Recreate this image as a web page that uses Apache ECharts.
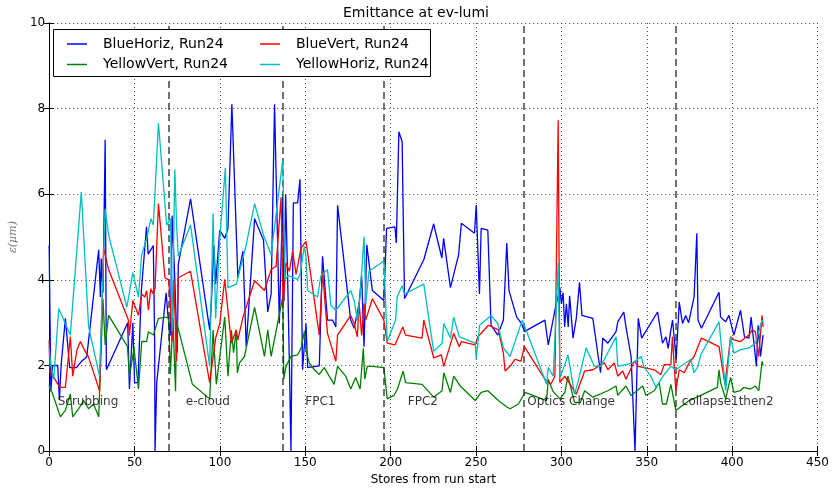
<!DOCTYPE html>
<html>
<head>
<meta charset="utf-8">
<script src="https://cdn.jsdelivr.net/npm/echarts@6/dist/echarts.min.js"></script>
<style>html,body{margin:0;padding:0;background:#fff;overflow:hidden}#c{width:832px;height:491px}</style>
</head>
<body>
<div id="c"></div>
<script>
const title = 'Emittance at ev-lumi';
const xTicks = [0, 450, 50];
const yTicks = [0, 10, 2];
const seriesNames = ['BlueHoriz, Run24', 'YellowVert, Run24', 'BlueVert, Run24', 'YellowHoriz, Run24'];
const boundaries = [70, 137, 196, 278, 367];
const regionNames = ['Scrubbing', 'e-cloud', 'FPC1', 'FPC2', 'Optics Change', 'collapse1then2'];
const regionX = [5, 80, 150, 210, 280, 370.5];
const regionY = [1, 1, 1, 1, 1, 1];

const blueHoriz = [[0,4.8],[1,1.4],[2,2.0],[5,2.0],[6,1.2],[7,2.0],[9.5,3.1],[12,1.95],[16,1.95],[19,2.1],[22,2.2],[29,4.7],[30,3.6],[30.5,4.5],[31.5,3.7],[32.8,7.27],[33.5,1.9],[46,3.0],[47,1.45],[49,3.0],[50,1.6],[52,1.6],[54,3.75],[57,5.24],[58,4.6],[61,4.8],[61.8,2.5],[62,0],[63,1.6],[68.5,3.7],[69.5,3.2],[71,2.7],[72,5.5],[73.5,4.1],[75,2.3],[75.6,4.36],[82.8,5.89],[94,2.83],[95,3.5],[96.5,4.8],[97.5,3.9],[99.9,5.16],[102.8,4.97],[104.7,5.2],[107,8.1],[110.5,4.05],[113.5,4.67],[115.4,2.44],[120.3,5.43],[125.5,4.93],[128,3.25],[130,3.67],[132,8.1],[134.8,2.98],[136.8,5.97],[137.5,3.5],[138.5,6.0],[139.7,3.99],[140.7,2.0],[141.6,0],[143,5.8],[145.5,5.8],[146.9,6.35],[148.4,1.9],[150.4,2.98],[151.4,1.95],[158.2,1.99],[160.1,4.55],[163,3.06],[166,3.06],[167.9,2.9],[168.9,5.74],[176.6,3.06],[178.6,2.87],[181.5,3.44],[183,4.1],[184.4,2.44],[186,4.82],[189.3,3.75],[196,3.52],[197.6,5.2],[202.5,5.24],[203.3,4.86],[204.8,7.46],[206.7,7.23],[208.1,3.56],[219.4,4.47],[225.2,5.31],[226.2,5.13],[230,4.51],[231,4.97],[235,3.82],[239.8,4.59],[241.4,5.32],[249.1,5.09],[250.1,5.75],[252,3.67],[253,5.2],[256.9,5.16],[258.8,2.94],[262.7,2.71],[266,3.06],[268,4.86],[269.3,3.75],[273.8,3.13],[276.7,2.98],[278.3,2.79],[290.3,3.06],[292.3,2.48],[296.2,3.29],[299.1,3.82],[300,3.44],[301,3.7],[301.9,2.9],[302.9,3.44],[304,2.9],[304.8,3.63],[306.8,2.64],[308.7,3.1],[310.6,3.94],[312,3.17],[318.4,3.1],[322.9,1.83],[324.2,2.64],[327.2,2.52],[332,2.79],[333,3.02],[336.5,3.25],[337.8,2.9],[340.8,2.21],[343.1,0],[345,3.1],[347,2.64],[356.3,3.25],[359.2,2.52],[361.2,2.67],[362.5,2.4],[364.1,2.83],[365.1,3.06],[367.2,2.14],[369,3.48],[370.9,2.98],[372.8,3.17],[374.5,3.0],[377.7,3.6],[379.3,5.09],[380,3.06],[382,2.87],[392.3,3.71],[393.2,3.13],[396.2,3.02],[398.1,3.17],[401,2.71],[404.9,3.29],[407.2,2.67],[409.8,2.64],[411.1,3.13],[414.2,1.98],[415.2,2.94],[416.6,2.21],[418.1,2.71]];

const blueVert = [[0,2.6],[0.4,1.83],[2.3,1.75],[6.2,1.49],[9.5,1.49],[12.4,2.67],[13.8,1.75],[16.3,2.37],[18.3,2.56],[20.2,2.4],[23,2.2],[29.5,1.41],[31.9,4.74],[34.8,4.24],[46.4,3.06],[47,2.7],[49,3.52],[52.3,3.17],[54.2,3.67],[56,3.6],[57.1,3.75],[58.1,3.29],[59.5,3.79],[61,3.67],[62,3.8],[64,5.78],[67.8,4.05],[70,4.0],[71,3.4],[72,2.56],[73,4.0],[74.6,2.1],[75.6,4.05],[82.8,4.2],[94,1.6],[97.5,2.64],[99.9,2.98],[102.8,4.01],[106.7,2.52],[109.6,2.83],[110.5,2.6],[113.5,3.13],[120.3,3.98],[126.1,3.75],[130,4.24],[132.9,4.32],[135.8,5.93],[137,3.4],[138.7,4.4],[140.7,4.2],[142.6,4.67],[144.6,4.13],[147.5,4.74],[150.4,4.9],[158.2,2.71],[160.1,4.2],[163,2.75],[167.9,2.1],[168.9,2.71],[176.6,3.17],[178.6,2.98],[180.5,2.67],[181.5,3.48],[183,2.7],[184.4,3.44],[185.4,3.06],[189.3,3.56],[196,3.06],[198,2.52],[202.5,2.48],[207.1,2.9],[208.7,2.71],[218.4,2.64],[219.4,3.06],[225.2,2.18],[229.7,2.25],[231.1,1.98],[236.9,2.75],[240.2,2.44],[241.4,2.56],[249.5,2.48],[251.1,2.67],[257.3,2.94],[263.1,2.83],[266,2.29],[267,1.87],[269.9,1.98],[272.8,2.14],[276.3,2.1],[278.3,2.44],[290.3,1.68],[293.8,1.56],[296.2,1.75],[298.1,7.73],[299.1,1.6],[302,1.75],[308.7,1.33],[313.6,1.87],[318.4,1.9],[325.2,2.06],[327.2,1.9],[331,2.06],[333,1.75],[335.9,1.87],[337.8,1.68],[342.7,2.1],[345,1.98],[348.5,1.95],[354.4,1.9],[358.2,1.79],[360.2,2.02],[364.1,2.02],[365,2.67],[367,1.41],[369,1.9],[371.9,1.83],[374.8,2.06],[377.7,2.21],[378.7,2.25],[382,2.64],[392.3,2.44],[395.8,1.56],[399.1,2.67],[401,2.6],[404.9,2.56],[409.8,2.71],[411.7,2.83],[413.6,2.79],[415.5,2.21],[417.5,3.17],[418.1,2.9]];

const yellowVert = [[0,1.55],[0.4,1.45],[1.7,1.37],[3.7,1.14],[6.6,0.8],[9.5,0.95],[12.4,1.33],[13.8,0.8],[17.3,0.99],[20.2,1.18],[23.1,0.99],[26,1.1],[29,0.8],[31.5,3.56],[32.8,2.48],[34.8,3.17],[45.9,2.44],[47,1.75],[49.7,2.4],[52.3,1.45],[54.2,2.56],[57.1,2.56],[58.1,2.79],[61,2.71],[64,3.1],[68.8,3.13],[70,3.1],[71,1.8],[72.5,3.1],[74,1.4],[74.6,3.02],[83.9,1.56],[94,1.22],[96,2.83],[97.9,1.56],[102.8,3.13],[104.7,1.75],[106.7,2.83],[108,2.3],[109.6,2.83],[110.2,1.83],[111.5,2.06],[114.4,2.21],[120.3,3.36],[126.1,2.21],[128,2.83],[130,2.21],[136.8,3.6],[137.4,1.68],[138.7,1.98],[141.6,2.21],[145.5,2.25],[147.5,2.4],[149.5,2.8],[150.4,2.37],[152.3,2.06],[155.3,1.9],[158.2,1.79],[161.1,1.95],[166.9,1.56],[168.9,1.98],[173.7,1.75],[176.6,1.45],[179.5,1.72],[182.1,1.45],[184,2.4],[184.8,1.68],[186.3,1.98],[189.3,1.98],[196,1.95],[198,1.22],[201.9,1.3],[204,1.45],[207.3,1.87],[208.7,1.6],[218.4,1.56],[225.2,1.26],[230.1,1.41],[231.1,1.83],[235,1.37],[236.9,1.75],[240.8,1.52],[249.5,1.18],[253,1.37],[256.9,1.41],[263.1,1.18],[268,1.03],[269.9,0.99],[274.8,1.1],[278.7,1.37],[291.3,1.18],[292.3,1.68],[295,1.4],[299.1,1.22],[302,1.37],[303.8,1.75],[307.7,1.14],[311.2,1.14],[313.6,1.41],[318.4,1.26],[327.2,1.41],[332,1.52],[333,1.3],[337.8,1.52],[340.8,1.3],[347.6,1.52],[349.5,1.3],[354.4,1.41],[357.3,1.6],[359.2,1.1],[361.5,1.1],[364.1,1.56],[367,0.95],[374.8,1.18],[381.6,1.3],[391.3,1.49],[392.3,1.9],[393.2,1.6],[396.2,1.22],[399.1,1.72],[401,1.37],[404.9,1.41],[406.8,1.49],[410.7,1.45],[413.6,1.52],[415.6,1.41],[417.5,2.1],[418.1,2.0]];

const yellowHoriz = [[0,2.4],[1,2.0],[2.7,1.68],[5.6,3.33],[12.4,2.71],[18.8,6.05],[23.1,2.9],[29.5,1.75],[32.8,5.66],[34.8,5.05],[45.5,3.36],[49,4.17],[52.3,3.6],[54.2,4.59],[57.1,4.97],[59.6,5.43],[61,5.28],[64,7.66],[68.8,5.28],[71.1,5.43],[72,2.8],[73.6,6.58],[74.6,5.32],[75.6,4.55],[82.8,5.28],[94,1.98],[96,5.55],[97.5,3.1],[99.9,4.97],[103.2,6.62],[104.7,3.82],[109.6,3.9],[115.4,4.82],[120.3,5.78],[125.5,5.05],[130,4.59],[136.8,6.81],[138,4.0],[140,4.1],[145.5,4.01],[146.9,4.13],[149.4,4.78],[150.4,4.55],[151.4,3.75],[157.2,3.6],[159.1,4.09],[163,4.24],[165,3.4],[167.9,3.29],[176.6,3.75],[178.6,3.52],[180.5,3.06],[182,3.6],[184.4,5.01],[185.4,3.44],[187.3,4.2],[196,4.44],[198,2.56],[202.9,3.06],[203.8,3.6],[206.7,3.86],[208.1,3.67],[219.4,3.9],[225.2,2.33],[230.1,2.52],[231.1,2.98],[235,2.64],[236.9,3.13],[240.2,2.67],[249.5,2.52],[250.1,2.14],[252.1,2.94],[258.8,3.17],[262.7,2.98],[266,2.41],[269.9,2.21],[277.1,3.06],[291.3,1.56],[292.3,1.95],[295.2,1.75],[298.1,4.4],[299.1,1.72],[302,2.02],[303.8,2.25],[307.7,1.33],[309.6,1.6],[314.5,2.41],[319.3,1.98],[323,1.98],[332,2.67],[333,1.98],[341.7,2.06],[346.6,2.21],[348.5,1.95],[352.4,1.75],[355.3,1.49],[360.2,1.79],[364.1,1.98],[367,1.9],[369.9,1.98],[375.7,2.14],[377.7,1.83],[380,1.98],[381.6,2.25],[392.3,3.02],[396.2,1.41],[399.1,2.67],[401,2.29],[404.9,2.37],[409.8,2.41],[413.6,2.52],[417.5,3.06],[418.1,3.0]];

const seriesData = [blueHoriz, yellowVert, blueVert, yellowHoriz];
const seriesColors = ['#0000ff', '#008000', '#ff0000', '#00bfbf'];

const FONT = 'DejaVu Sans';
const chart = echarts.init(document.getElementById('c'), null, {renderer: 'canvas'});

const lineSeries = seriesNames.map((n, i) => ({
  name: n, type: 'line', data: seriesData[i], showSymbol: false, symbol: 'none',
  lineStyle: {color: seriesColors[i], width: 1.3}, itemStyle: {color: seriesColors[i]},
  animation: false, z: 3 + i
}));
lineSeries[0].markLine = {
  silent: true, symbol: ['none', 'none'], animation: false,
  label: {show: false},
  lineStyle: {color: '#222', type: [7, 4], width: 1.5, opacity: 0.85},
  data: boundaries.map(b => ({xAxis: b}))
};

const regionSeries = {
  type: 'scatter', symbolSize: 0, silent: true, animation: false, z: 10,
  data: regionX.map((x, i) => ({value: [x, regionY[i]], name: regionNames[i]})),
  label: {show: true, position: [0, 0], align: 'left', verticalAlign: 'bottom',
    formatter: p => p.name, fontFamily: FONT, fontSize: 12, color: '#000'}
};

const legCols = [62, 255];
const legRows = [32, 52.5];
const legOrder = [[0, 0, 0], [2, 1, 0], [1, 0, 1], [3, 1, 1]];
const legends = legOrder.map(([si, c, r]) => ({
  data: [seriesNames[si]], left: legCols[c], top: legRows[r], z: 100,
  icon: 'rect', itemWidth: 20, itemHeight: 1.5, itemGap: 0,
  textStyle: {fontFamily: FONT, fontSize: 14, color: '#000', padding: [0, 0, 0, 11]},
  selectedMode: false
}));

const axisCommon = {
  type: 'value', axisLine: {show: true, lineStyle: {color: '#000', width: 1}},
  axisTick: {show: true, inside: true, length: 5, lineStyle: {color: '#000'}}
};

chart.setOption({
  backgroundColor: '#fff',
  animation: false,
  title: {text: title, left: 'center', top: 1,
    textStyle: {fontFamily: FONT, fontSize: 14, fontWeight: 'normal', color: '#000'}},
  legend: legends,
  grid: {left: 46, right: 14, top: 23, bottom: 33, containLabel: false},
  xAxis: [
    Object.assign({}, axisCommon, {min: xTicks[0], max: xTicks[1], interval: xTicks[2],
      name: 'Stores from run start', nameLocation: 'middle', nameGap: 20,
      nameTextStyle: {fontFamily: FONT, fontSize: 12, color: '#000'},
      axisLabel: {fontFamily: FONT, fontSize: 12, color: '#000', margin: 6},
      splitLine: {show: true, lineStyle: {color: '#000', type: [1, 3], width: 1, opacity: 0.7}}}),
    Object.assign({}, axisCommon, {min: xTicks[0], max: xTicks[1], interval: xTicks[2], position: 'top',
      axisLabel: {show: false}, splitLine: {show: false}})
  ],
  yAxis: [
    Object.assign({}, axisCommon, {min: yTicks[0], max: yTicks[1], interval: yTicks[2],
      name: 'ε(μm)', nameLocation: 'middle', nameGap: 25, nameRotate: 90,
      nameTextStyle: {fontFamily: 'DejaVu Serif', fontStyle: 'italic', fontSize: 11, color: '#777'},
      axisLabel: {fontFamily: FONT, fontSize: 12, color: '#000', margin: 4},
      splitLine: {show: true, lineStyle: {color: '#000', type: [1, 3], width: 1, opacity: 0.7}}}),
    Object.assign({}, axisCommon, {min: yTicks[0], max: yTicks[1], interval: yTicks[2], position: 'right',
      axisLabel: {show: false}, splitLine: {show: false}})
  ],
  graphic: [
    {type: 'rect', left: 53, top: 29, shape: {width: 377, height: 47},
      style: {fill: '#fff', stroke: '#000', lineWidth: 1}, z: 90}
  ],
  series: lineSeries.concat([regionSeries])
});
</script>
</body>
</html>
